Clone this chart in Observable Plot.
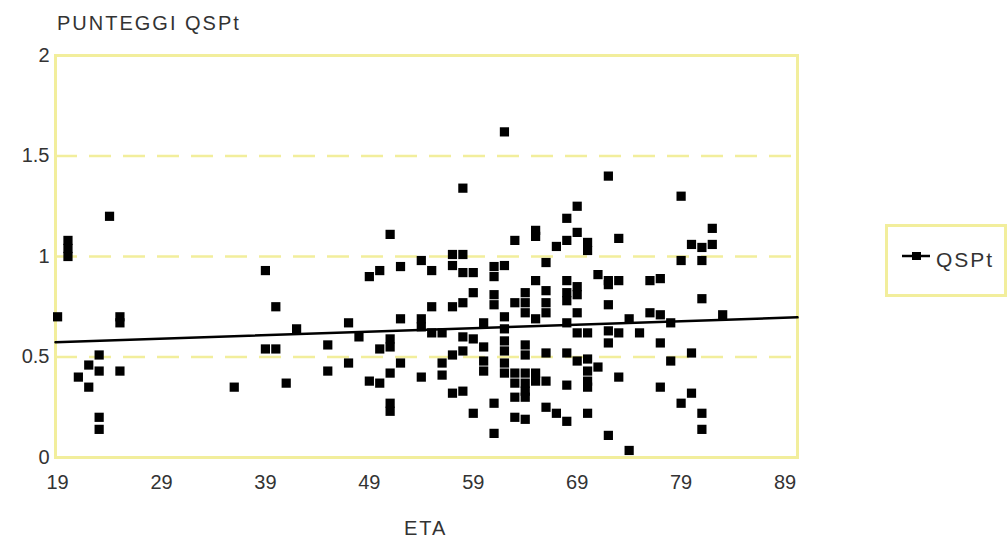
<!DOCTYPE html>
<html>
<head>
<meta charset="utf-8">
<script src="https://cdn.jsdelivr.net/npm/d3@7"></script>
<script src="https://cdn.jsdelivr.net/npm/@observablehq/plot@0.6"></script>
<style>
  html, body { margin: 0; padding: 0; background: #fff; }
  #wrap { position: relative; width: 1008px; height: 544px; overflow: hidden;
          font-family: "Liberation Sans", Arial, sans-serif; color: #333; }
  .lbl { position: absolute; font-size: 20px; letter-spacing: 2px; white-space: nowrap; line-height: 1; }
  #legend { position: absolute; left: 885px; top: 224px; width: 116px; height: 67px;
            border: 3px solid #f2ee9c; background: #fff; }
</style>
</head>
<body>
<div id="wrap"></div>
<script>
// Ages (ETA) and the QSPt scores observed at each age
const ageGroups = [19, 20, 21, 22, 23, 24, 25, 36, 39, 40, 41, 42, 45, 47, 48, 49, 50, 51, 52, 54,
  55, 56, 57, 58, 59, 60, 61, 62, 63, 64, 65, 66, 67, 68, 69, 70, 71, 72, 73, 74, 75, 76, 77, 78,
  79, 80, 81, 82, 83];
const scoresByAge = [
  [0.70],
  [1.08, 1.04, 1.00],
  [0.40],
  [0.46, 0.35],
  [0.51, 0.43, 0.20, 0.14],
  [1.20],
  [0.70, 0.67, 0.43],
  [0.35],
  [0.93, 0.54],
  [0.75, 0.54],
  [0.37],
  [0.64],
  [0.56, 0.43],
  [0.67, 0.47],
  [0.60],
  [0.90, 0.38],
  [0.93, 0.54, 0.37],
  [1.11, 0.59, 0.55, 0.42, 0.27, 0.23],
  [0.95, 0.69, 0.47],
  [0.98, 0.69, 0.65, 0.40],
  [0.93, 0.75, 0.62],
  [0.62, 0.47, 0.41],
  [1.01, 0.955, 0.75, 0.51, 0.32],
  [1.34, 1.01, 0.92, 0.77, 0.60, 0.53, 0.33],
  [0.92, 0.82, 0.59, 0.22],
  [0.67, 0.55, 0.48, 0.43],
  [0.95, 0.90, 0.81, 0.76, 0.27, 0.12],
  [1.62, 0.955, 0.70, 0.64, 0.58, 0.53, 0.47, 0.42],
  [1.08, 0.77, 0.42, 0.37, 0.30, 0.20],
  [0.82, 0.77, 0.72, 0.56, 0.51, 0.42, 0.37, 0.33, 0.30, 0.19],
  [1.13, 1.10, 0.88, 0.69, 0.42, 0.38],
  [0.97, 0.83, 0.77, 0.72, 0.52, 0.38, 0.25],
  [1.05, 0.22],
  [1.19, 1.08, 0.88, 0.82, 0.78, 0.67, 0.52, 0.36, 0.18],
  [1.25, 1.12, 0.85, 0.81, 0.72, 0.62, 0.48],
  [1.07, 1.03, 0.62, 0.49, 0.43, 0.38, 0.35, 0.22],
  [0.91, 0.45],
  [1.40, 0.88, 0.86, 0.76, 0.63, 0.57, 0.11],
  [1.09, 0.88, 0.62, 0.40],
  [0.69, 0.035],
  [0.62],
  [0.88, 0.72],
  [0.89, 0.71, 0.57, 0.35],
  [0.67, 0.48],
  [1.30, 0.98, 0.27],
  [1.06, 0.52, 0.32],
  [1.045, 0.98, 0.79, 0.22, 0.14],
  [1.14, 1.06],
  [0.71]
];
// Fit line: value at age 19 and rise per year
const fitAt19 = 0.574;
const fitSlope = 0.00173;
const xTicks = [19, 29, 39, 49, 59, 69, 79, 89];
const yTicks = [0, 0.5, 1, 1.5, 2];
const gridValues = [0.5, 1, 1.5];
const seriesName = "QSPt";
const xTitle = "ETA";
const yTitle = "PUNTEGGI QSPt";

const points = ageGroups.flatMap((a, i) => scoresByAge[i].map(s => ({eta: a, score: s})));

const xDomain = [18.8, 90.2];
const fit = xDomain.map(x => ({eta: x, score: fitAt19 + fitSlope * (x - 19)}));

const yellow = "#f2ee9c";
const chart = Plot.plot({
  width: 1008,
  height: 544,
  marginLeft: 55,
  marginRight: 211,
  marginTop: 55,
  marginBottom: 87,
  style: {fontFamily: "'Liberation Sans', Arial, sans-serif", fontSize: "20px", color: "#333", background: "#fff"},
  x: {domain: xDomain, label: null},
  y: {domain: [0, 2], label: null},
  marks: [
    Plot.ruleY(gridValues, {stroke: yellow, strokeWidth: 2.5, strokeDasharray: "22,12"}),
    Plot.frame({stroke: yellow, strokeWidth: 3}),
    Plot.axisX({ticks: xTicks, tickSize: 0, tickPadding: 17, tickFormat: d => String(d), fill: "#333", style: {letterSpacing: "1.5px"}}),
    Plot.axisY({ticks: yTicks, tickSize: 0, tickPadding: 6, tickFormat: d => String(d), fill: "#333", style: {letterSpacing: "1.5px"}}),
    Plot.line(fit, {x: "eta", y: "score", stroke: "#000", strokeWidth: 2.5}),
    Plot.dot(points, {x: "eta", y: "score", symbol: "square", r: 5.2, fill: "#000", stroke: "none"})
  ]
});

const wrap = document.getElementById("wrap");
wrap.appendChild(chart);

const yt = document.createElement("div");
yt.className = "lbl"; yt.textContent = yTitle;
yt.style.left = "57px"; yt.style.top = "13px";
wrap.appendChild(yt);

const xt = document.createElement("div");
xt.className = "lbl"; xt.textContent = xTitle;
xt.style.left = "404px"; xt.style.top = "518px";
wrap.appendChild(xt);

const lg = document.createElement("div");
lg.id = "legend";
lg.innerHTML = `<svg width="40" height="20" style="position:absolute;left:12px;top:20px">
  <line x1="2" y1="9" x2="30" y2="9" stroke="#000" stroke-width="2.5"/>
  <rect x="12" y="5" width="9" height="8" fill="#000"/></svg>
  <div class="lbl" style="left:48px;top:22px;font-size:21px">${seriesName}</div>`;
wrap.appendChild(lg);
</script>
</body>
</html>
